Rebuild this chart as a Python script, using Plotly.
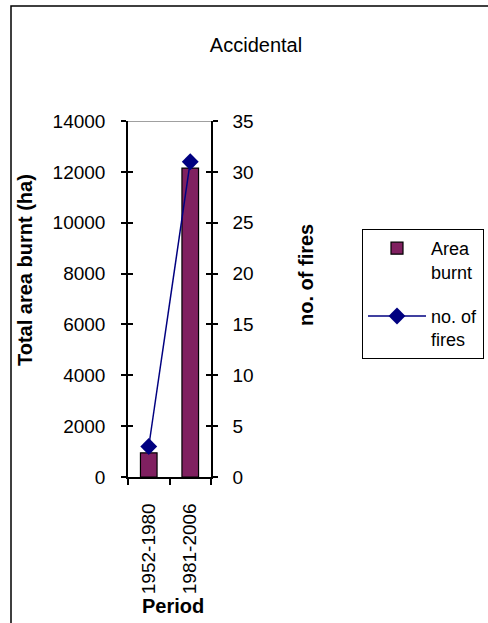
import plotly.graph_objects as go

# Data
periods = ["1952-1980", "1981-2006"]
area_burnt = [950, 12150]     # total area burnt (ha)
n_fires = [3, 31]             # number of fires

W, H = 488, 623
FONT = "Liberation Sans, Arial, sans-serif"

# plot area in pixels
px_left, px_right, px_top, px_bottom = 128, 211, 121, 477
xdom = [px_left / W, px_right / W]
ydom = [1 - px_bottom / H, 1 - px_top / H]

fig = go.Figure()

fig.add_trace(go.Bar(
    x=periods, y=area_burnt, name="Area<br>burnt", legendgroup="area",
    marker=dict(color="#802060", line=dict(color="black", width=1.2)),
    width=0.4, yaxis="y",
))
fig.add_trace(go.Scatter(
    x=periods, y=n_fires, name="no. of<br>fires", legendgroup="fires",
    yaxis="y2", mode="lines+markers",
    line=dict(color="#000080", width=1.5),
    marker=dict(symbol="diamond", size=13, color="#000080"),
))
# invisible helpers so the inner tick axes get drawn
fig.add_trace(go.Scatter(x=periods, y=area_burnt, yaxis="y3", mode="none",
                         showlegend=False, hoverinfo="skip"))
fig.add_trace(go.Scatter(x=periods, y=n_fires, yaxis="y4", mode="none",
                         showlegend=False, hoverinfo="skip"))

tickfont = dict(family=FONT, size=19, color="black")

fig.update_layout(
    width=W, height=H, autosize=False,
    margin=dict(l=0, r=0, t=0, b=0),
    paper_bgcolor="white", plot_bgcolor="white",
    font=dict(family=FONT, color="black"),
    title=dict(text="Accidental", x=256 / W, y=1 - 45 / H,
               xanchor="center", yanchor="middle",
               font=dict(family=FONT, size=20, color="black")),
    xaxis=dict(
        domain=xdom, type="category", anchor="y",
        showline=True, linecolor="black", linewidth=1.5,
        ticks="outside", tickson="boundaries", ticklen=6, tickwidth=1.5,
        tickcolor="black", tickangle=-90, tickfont=tickfont,
        ticklabelstandoff=17, showgrid=False, automargin=False,
    ),
    yaxis=dict(
        domain=ydom, range=[0, 14000], dtick=2000, anchor="x",
        tickformat="d",
        showline=True, linecolor="black", linewidth=1.5,
        ticks="outside", ticklen=5, tickwidth=1.5, tickcolor="black",
        tickfont=tickfont, ticklabelstandoff=12, showgrid=False,
        zeroline=False, automargin=False,
    ),
    yaxis2=dict(
        domain=ydom, range=[0, 35], dtick=5, anchor="x", overlaying="y",
        side="right", showline=True, linecolor="black", linewidth=1.5,
        ticks="outside", ticklen=5, tickwidth=1.5, tickcolor="black",
        tickfont=tickfont, ticklabelstandoff=11, showgrid=False,
        zeroline=False, automargin=False,
    ),
    yaxis3=dict(
        domain=ydom, range=[0, 14000], dtick=2000, anchor="x", overlaying="y",
        side="left", showline=False, ticks="inside", ticklen=5, tickwidth=1.5,
        tickcolor="black", showticklabels=False, showgrid=False,
        zeroline=False, automargin=False,
    ),
    yaxis4=dict(
        domain=ydom, range=[0, 35], dtick=5, anchor="x", overlaying="y",
        side="right", showline=False, ticks="inside", ticklen=5, tickwidth=1.5,
        tickcolor="black", showticklabels=False, showgrid=False,
        zeroline=False, automargin=False,
    ),
    legend=dict(
        x=362 / W, y=1 - 229 / H, xanchor="left", yanchor="top",
        bordercolor="black", borderwidth=1, bgcolor="white",
        font=dict(family=FONT, size=18, color="black"),
        valign="top", tracegroupgap=18, itemwidth=58,
    ),
    showlegend=True,
    bargap=0.6,
)

# top edge of the plot area
fig.add_shape(type="line", xref="x domain", yref="y", x0=0, x1=1,
              y0=14000, y1=14000, line=dict(color="#808080", width=1.5))

# chart frame
fig.add_shape(type="rect", xref="paper", yref="paper",
              x0=11 / W, x1=1.02, y0=-0.02, y1=1 - 6 / H,
              line=dict(color="black", width=1.5), layer="below")

# axis titles
title_font = dict(family=FONT, size=20, color="black")
fig.add_annotation(text="<b>Total area burnt (ha)</b>", textangle=-90,
                   xref="paper", yref="paper", x=25 / W, y=1 - 270 / H,
                   xanchor="center", yanchor="middle",
                   showarrow=False, font=title_font)
fig.add_annotation(text="<b>no. of fires</b>", textangle=-90,
                   xref="paper", yref="paper", x=306 / W, y=1 - 275 / H,
                   xanchor="center", yanchor="middle",
                   showarrow=False, font=title_font)
fig.add_annotation(text="<b>Period</b>",
                   xref="paper", yref="paper", x=173 / W, y=1 - 606 / H,
                   xanchor="center", yanchor="middle",
                   showarrow=False, font=title_font)

fig.write_html("out.html")
